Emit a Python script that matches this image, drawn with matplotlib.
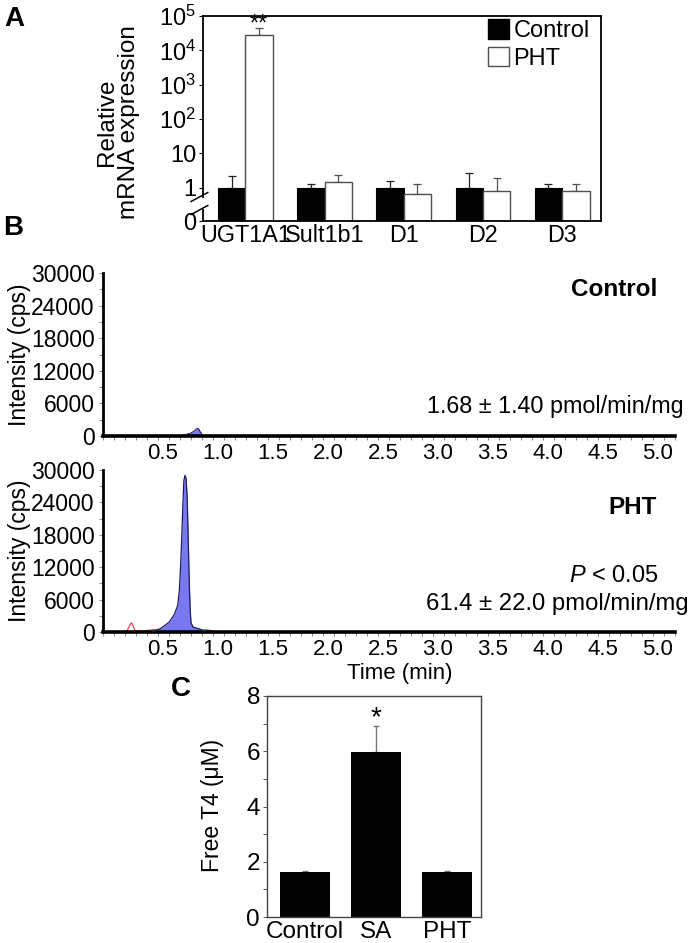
import numpy as np
import matplotlib
matplotlib.use("Agg")
import matplotlib.pyplot as plt
from matplotlib.ticker import FixedLocator, MultipleLocator, NullLocator
from matplotlib.patches import Patch
from matplotlib.lines import Line2D
import matplotlib.transforms as mtransforms

plt.rcParams['font.family'] = ['Liberation Sans', 'DejaVu Sans']
plt.rcParams['mathtext.fontset'] = 'custom'
plt.rcParams['mathtext.rm'] = 'Liberation Sans'
plt.rcParams['mathtext.it'] = 'Liberation Sans:italic'
plt.rcParams['mathtext.bf'] = 'Liberation Sans:bold'

# ---------------- Panel A data ----------------
genes = ["UGT1A1", "Sult1b1", "D1", "D2", "D3"]
ctrl_expr = [1.0, 1.0, 1.0, 1.0, 1.0]
ctrl_expr_err = [1.18, 0.25, 0.60, 1.60, 0.28]
pht_expr = [28000, 1.49, 0.64, 0.80, 0.80]
pht_expr_err = [18000, 0.84, 0.61, 1.15, 0.48]
a_ticks = [0, 1, 10, 100, 1000, 10000, 100000]
a_ticklabels = ["0", "1", "10", "$10^2$", "$10^3$", "$10^4$", "$10^5$"]

# ---------------- Panel B data ----------------
ctrl_time = [0.64, 0.70, 0.75, 0.80, 0.83, 0.85, 0.86, 0.87, 0.88, 0.90, 0.91]
ctrl_int = [0, 100, 250, 550, 900, 1300, 1400, 1300, 900, 300, 0]
pht_time = [0.45, 0.52, 0.60, 0.65, 0.68, 0.695, 0.705, 0.715, 0.725, 0.735, 0.745,
            0.755, 0.765, 0.772, 0.779, 0.786, 0.793, 0.80, 0.82, 0.88, 0.93]
pht_int = [0, 600, 1800, 3300, 5000, 8000, 12000, 17000, 23000, 28000, 29000,
           28500, 25000, 19500, 13500, 8000, 4000, 1700, 900, 550, 0]
red_time = [0.18, 0.22, 0.25, 0.26, 0.27, 0.29, 0.32, 0.40, 0.50, 0.60, 0.80, 0.95, 1.00, 1.03]
red_int = [0, 300, 1500, 1700, 1300, 300, 150, 300, 500, 500, 450, 400, 200, 0]
b_yticks = [0, 6000, 12000, 18000, 24000, 30000]
b_xticks = [0.5, 1.0, 1.5, 2.0, 2.5, 3.0, 3.5, 4.0, 4.5, 5.0]

# ---------------- Panel C data ----------------
groups_c = ["Control", "SA", "PHT"]
t4_vals = [1.62, 5.96, 1.62]
t4_err = [0.04, 0.95, 0.04]
c_yticks = [0, 2, 4, 6, 8]

W, H = 690, 943
fig = plt.figure(figsize=(W / 100, H / 100), dpi=100)


def box(l, t, r, b):
    return [l / W, 1 - b / H, (r - l) / W, (b - t) / H]


def ftext(x, y, s, **kw):
    fig.text(x / W, 1 - y / H, s, **kw)


# ================= Panel A =================
axA = fig.add_axes(box(203, 16, 601, 221))
floor = 10 ** -0.97


def fwd(v):
    return np.log10(np.maximum(v, floor))


def inv(y):
    return 10.0 ** np.asarray(y)


axA.set_yscale('function', functions=(fwd, inv))
xa = np.arange(len(genes))
w = 0.346
axA.bar(xa - w / 2, ctrl_expr, w, color='black', edgecolor='black', lw=0.8, zorder=2)
axA.bar(xa + w / 2, pht_expr, w, color='white', edgecolor='#505050', lw=1.0, zorder=2)
axA.errorbar(xa - w / 2, ctrl_expr, yerr=[np.zeros(5), ctrl_expr_err], fmt='none',
             ecolor='#222222', elinewidth=0.9, capsize=3, capthick=0.9, zorder=1)
axA.errorbar(xa + w / 2, pht_expr, yerr=[np.zeros(5), pht_expr_err], fmt='none',
             ecolor='#505050', elinewidth=0.9, capsize=3, capthick=0.9, zorder=1)
axA.set_ylim(0, 1e5)
axA.set_xlim(-0.535, 4.49)
axA.yaxis.set_major_locator(FixedLocator(a_ticks))
axA.yaxis.set_minor_locator(NullLocator())
axA.set_yticklabels(a_ticklabels)
axA.set_xticks(xa)
axA.set_xticklabels(genes)
axA.tick_params(axis='y', length=3, width=0.8, pad=2, labelsize=17)
axA.tick_params(axis='x', length=0, pad=2, labelsize=16.8)
for s in ['top', 'right', 'bottom']:
    axA.spines[s].set_linewidth(1.3)
axA.spines['left'].set_visible(False)
yb1, yb2 = (221 - 210) / 205, (221 - 197) / 205
axA.add_line(Line2D([0, 0], [0, yb1], transform=axA.transAxes, color='black', lw=1.3, clip_on=False))
axA.add_line(Line2D([0, 0], [yb2, 1], transform=axA.transAxes, color='black', lw=1.3, clip_on=False))
for yb in (yb1, yb2):
    axA.add_line(Line2D([-0.03, 0.012], [yb - 0.022, yb + 0.022], transform=axA.transAxes,
                        color='black', lw=1.1, clip_on=False))
axA.annotate("**", xy=(xa[0] + w / 2, pht_expr[0] + pht_expr_err[0]), xytext=(0, -6),
             textcoords='offset points', ha='center', va='bottom', fontsize=17)
leg = axA.legend(handles=[Patch(facecolor='black', edgecolor='black', label='Control'),
                          Patch(facecolor='white', edgecolor='#505050', label='PHT')],
                 loc='upper left', bbox_to_anchor=(0.715, 0.985), frameon=False,
                 fontsize=17, handlelength=0.9, handleheight=0.9, handletextpad=0.2,
                 labelspacing=0.2, borderpad=0.0, borderaxespad=0.0)
ftext(118, 122, "Relative\nmRNA expression", rotation=90, ha='center', va='center',
      multialignment='center', fontsize=17.5, linespacing=1.05)

# ================= Panel B =================
offset = mtransforms.ScaledTranslation(5 / 100, 0, fig.dpi_scale_trans)


def chrom_axes(rect):
    ax = fig.add_axes(rect)
    ax.set_xlim(0, 5.2)
    ax.set_ylim(0, 30000)
    ax.spines['top'].set_visible(False)
    ax.spines['right'].set_visible(False)
    ax.spines['left'].set_linewidth(2.0)
    ax.spines['bottom'].set_linewidth(2.6)
    ax.xaxis.set_major_locator(FixedLocator(b_xticks))
    ax.xaxis.set_minor_locator(MultipleLocator(0.1))
    ax.set_xticklabels([f"{v:.1f}" for v in b_xticks])
    ax.yaxis.set_major_locator(FixedLocator(b_yticks))
    ax.yaxis.set_minor_locator(MultipleLocator(3000))
    ax.set_yticklabels([str(v) for v in b_yticks])
    ax.tick_params(which='both', direction='out', color='#888888', width=0.7)
    ax.tick_params(axis='y', which='major', length=3, labelsize=16.5, pad=3)
    ax.tick_params(axis='x', which='major', length=3, labelsize=16, pad=2)
    ax.tick_params(which='minor', length=3)
    for lab in ax.get_xticklabels():
        lab.set_transform(lab.get_transform() + offset)
    return ax


axB1 = chrom_axes(box(103, 273, 675, 436))
axB1.fill_between(ctrl_time, ctrl_int, color='#7878f0', lw=0)
axB1.plot(ctrl_time, ctrl_int, color='#1c1c5c', lw=0.8)

axB2 = chrom_axes(box(103, 470, 675, 632))
axB2.plot(red_time, red_int, color='#e03535', lw=0.8, zorder=1)
axB2.fill_between(pht_time, pht_int, color='#7878f0', lw=0, zorder=2)
axB2.plot(pht_time, pht_int, color='#1c1c5c', lw=0.9, zorder=3)

ftext(20, 355, "Intensity (cps)", rotation=90, ha='center', va='center', fontsize=16.5)
ftext(20, 551, "Intensity (cps)", rotation=90, ha='center', va='center', fontsize=16.5)
ftext(614, 289, "Control", fontweight='bold', ha='center', va='center', fontsize=17.5)
ftext(684, 407, "1.68 ± 1.40 pmol/min/mg", ha='right', va='center', fontsize=16.8)
ftext(633, 508, "PHT", fontweight='bold', ha='center', va='center', fontsize=17.5)
ftext(659, 576, "$P$ < 0.05", ha='right', va='center', fontsize=17)
ftext(689, 604, "61.4 ± 22.0 pmol/min/mg", ha='right', va='center', fontsize=17.2)
ftext(400, 674, "Time (min)", ha='center', va='center', fontsize=16)

# ================= Panel C =================
axC = fig.add_axes(box(267, 696, 481, 917))
xc = np.arange(len(groups_c))
axC.bar(xc, t4_vals, 0.707, color='black', zorder=2)
axC.errorbar(xc, t4_vals, yerr=[np.zeros(3), t4_err], fmt='none', ecolor='#777777',
             elinewidth=1.0, capsize=2, capthick=1.0, zorder=1)
axC.set_xlim(-0.53, 2.48)
axC.set_ylim(0, 8)
axC.yaxis.set_major_locator(FixedLocator(c_yticks))
axC.yaxis.set_minor_locator(MultipleLocator(1))
axC.set_xticks(xc)
axC.set_xticklabels(groups_c)
axC.tick_params(axis='y', which='both', length=3, width=0.7, color='#555555', labelsize=17.5, pad=2)
axC.tick_params(axis='x', length=0, labelsize=17.5, pad=3)
for s in axC.spines.values():
    s.set_linewidth(1.0)
    s.set_color('#444444')
axC.annotate("*", xy=(xc[1], t4_vals[1] + t4_err[1]), xytext=(0, -4),
             textcoords='offset points', ha='center', va='bottom', fontsize=20)
ftext(213, 805, "Free T4 (μM)", rotation=90, ha='center', va='center', fontsize=16.5)

# Panel letters
ftext(14, 19, "A", fontweight='bold', ha='center', va='center', fontsize=20)
ftext(13, 228, "B", fontweight='bold', ha='center', va='center', fontsize=20)
ftext(181, 689, "C", fontweight='bold', ha='center', va='center', fontsize=20)

fig.savefig("out.png", dpi=100)
